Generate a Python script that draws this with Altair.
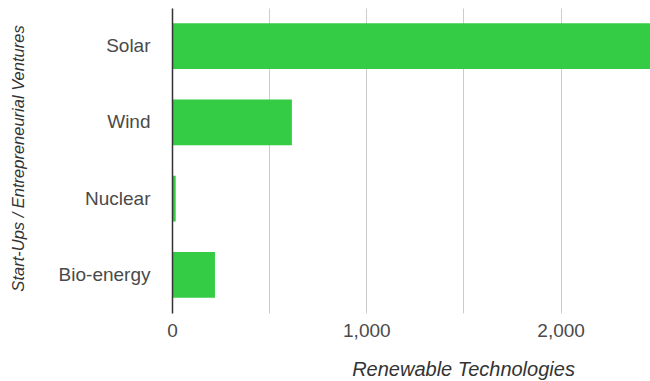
import altair as alt
import pandas as pd

categories = ["Solar", "Wind", "Nuclear", "Bio-energy"]
values = [2600, 617, 19, 221]
x_ticks = [0, 500, 1000, 1500, 2000]

df = pd.DataFrame({"tech": categories, "count": values})

FONT = "Liberation Sans"

bars = alt.Chart(df).mark_bar(color="#33cc44", clip=True).encode(
    x=alt.X(
        "count:Q",
        scale=alt.Scale(domain=[0, 2460], nice=False, zero=True),
        axis=alt.Axis(
            values=x_ticks,
            labelExpr="datum.value % 1000 == 0 ? format(datum.value, ',') : ''",
            ticks=False,
            domain=False,
            grid=True,
            gridColor="#cccccc",
            gridWidth=1,
            labelFont=FONT,
            labelFontSize=19,
            labelColor="#4a4a4a",
            labelPadding=17,
            labelBaseline="middle",
            labelFlush=False,
            title="Renewable Technologies",
            titleFont=FONT,
            titleFontSize=20,
            titleFontStyle="italic",
            titleFontWeight="normal",
            titleColor="#333333",
            titleX=291,
            titleY=62,
            titleAlign="center",
            titleBaseline="alphabetic",
        ),
    ),
    y=alt.Y(
        "tech:N",
        sort=categories,
        scale=alt.Scale(paddingInner=0.4, paddingOuter=0.2),
        axis=alt.Axis(
            ticks=False,
            domain=True,
            domainColor="#333333",
            domainWidth=1.5,
            grid=False,
            labelFont=FONT,
            labelFontSize=19,
            labelColor="#4a4a4a",
            labelPadding=22,
            title="Start-Ups / Entrepreneurial Ventures",
            titleFont=FONT,
            titleFontSize=16.5,
            titleFontStyle="italic",
            titleFontWeight="normal",
            titleColor="#333333",
            titleAngle=270,
            titleX=-149,
            titleY=150,
            titleAlign="center",
            titleBaseline="alphabetic",
            zindex=1,
        ),
    ),
)

chart = bars.properties(
    width=478,
    height=305,
    autosize=alt.AutoSizeParams(type="none"),
    padding={"left": 172, "top": 8, "right": 0, "bottom": 68},
    background="white",
).configure_view(stroke=None)

chart.save("out.html", embed_options={"renderer": "svg", "actions": False})
